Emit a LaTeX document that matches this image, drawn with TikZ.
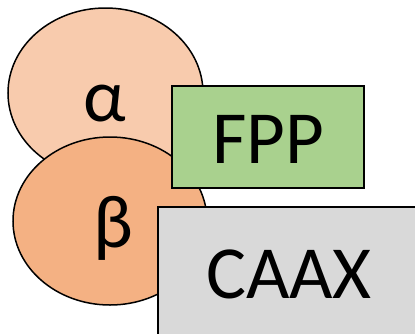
\documentclass[tikz,border=0pt]{standalone}
\usepackage{fontspec}
\setmainfont{Carlito}
\usetikzlibrary{shapes.geometric}
\definecolor{alphafill}{HTML}{F8CBAD}
\definecolor{betafill}{HTML}{F4B183}
\definecolor{fppfill}{HTML}{A9D18E}
\definecolor{caaxfill}{HTML}{D9D9D9}
\tikzset{
  subunit/.style={ellipse, draw=black, line width=1.5pt, inner sep=0pt,
    minimum width=195pt, minimum height=170pt},
  block/.style={rectangle, draw=black, line width=1.5pt, inner sep=0pt},
  label/.style={font=\fontsize{75}{75}\selectfont, inner sep=0pt}
}
\begin{document}
\begin{tikzpicture}[x=1pt,y=-1pt]
  \useasboundingbox (0,0) rectangle (415,333);
  \clip (0,0) rectangle (415,333);
  % the two subunits
  \node[subunit, fill=alphafill] (alpha) at (105.5,93) {};
  \node[label] (alphatext) at (105,104) {α};
  \node[subunit, fill=betafill, minimum width=194pt, minimum height=168pt] (beta) at (110,221) {};
  \node[label] (betatext) at (113,228) {β};
  % farnesyl diphosphate
  \node[block, fill=fppfill, minimum width=192pt, minimum height=102pt] (fpp) at (268,137) {};
  \node[label] (fpptext) at (268,139) {FPP};
  % CAAX peptide
  \node[block, fill=caaxfill, minimum width=272pt, minimum height=143pt] (caax) at (294,278.5) {};
  \node[label] (caaxtext) at (289,274) {CAAX};
\end{tikzpicture}
\end{document}
